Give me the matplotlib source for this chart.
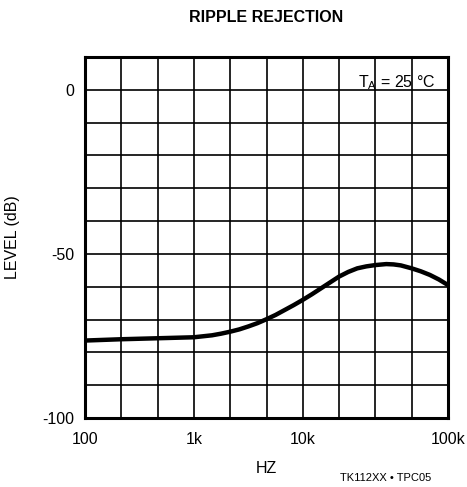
import matplotlib
matplotlib.use("Agg")
import matplotlib.pyplot as plt
from matplotlib import font_manager

names = {f.name for f in font_manager.fontManager.ttflist}
fam = [n for n in ["Liberation Sans Narrow", "Liberation Sans", "DejaVu Sans"] if n in names]
plt.rcParams['font.family'] = fam

# grid columns (evenly spaced), tick labels at column positions
x_tick_pos = [0, 3, 6, 10]
x_tick_labels = ["100", "1k", "10k", "100k"]
y_ticks = [0, -50, -100]

# curve: position in grid columns, level in dB
curve_x = [0, 1, 2, 3, 3.5, 3.75, 4, 4.25, 4.5, 4.75, 5, 5.25, 5.5, 5.75, 6, 6.25,
           6.5, 6.75, 7, 7.25, 7.5, 7.75, 8, 8.3, 8.5, 8.7, 9, 9.25, 9.5, 9.75, 10]
curve_db = [-76.4, -76.0, -75.7, -75.4, -74.8, -74.3, -73.7, -73.0, -72.1, -71.1,
            -69.9, -68.6, -67.1, -65.6, -64.0, -62.3, -60.5, -58.7, -56.9, -55.5,
            -54.4, -53.8, -53.4, -53.1, -53.2, -53.5, -54.4, -55.3, -56.4, -57.8, -59.5]

fig = plt.figure(figsize=(4.67, 4.87), dpi=100)
ax = fig.add_axes([85/467, 1-418/487, (448-85)/467, (418-57)/487])

ax.set_xlim(0, 10)
ax.set_ylim(-100, 10)
for gx in range(1, 10):
    ax.axvline(gx, color="black", lw=1.2, zorder=1)
for gy in range(-90, 10, 10):
    ax.axhline(gy, color="black", lw=1.2, zorder=1)

ax.plot(curve_x, curve_db, color="black", lw=3.2, solid_capstyle="butt",
        solid_joinstyle="round", zorder=3)

for s in ax.spines.values():
    s.set_linewidth(2.2)

ax.set_xticks(x_tick_pos)
ax.set_xticklabels(x_tick_labels, fontsize=11.5)
ax.set_yticks(y_ticks)
ax.set_yticklabels([str(v) for v in y_ticks], fontsize=11.5)
ax.tick_params(axis="x", length=0, pad=10)
ax.tick_params(axis="y", length=0, pad=8)

ax.set_xlabel("HZ", fontsize=11.5, labelpad=10)
ax.set_ylabel("LEVEL (dB)", fontsize=11.5, labelpad=16)

ax.text(0.965, 0.955, r"T$_\mathregular{A}$ = 25 °C", transform=ax.transAxes,
        ha="right", va="top", fontsize=11.5, zorder=4)

fig.text(266/467, 1-18/487, "RIPPLE REJECTION", ha="center", va="center",
         fontsize=11.5, fontweight="bold")
fig.text(386/467, 1-478/487, "TK112XX • TPC05", ha="center", va="center", fontsize=8)

fig.savefig("out.png", dpi=100)
